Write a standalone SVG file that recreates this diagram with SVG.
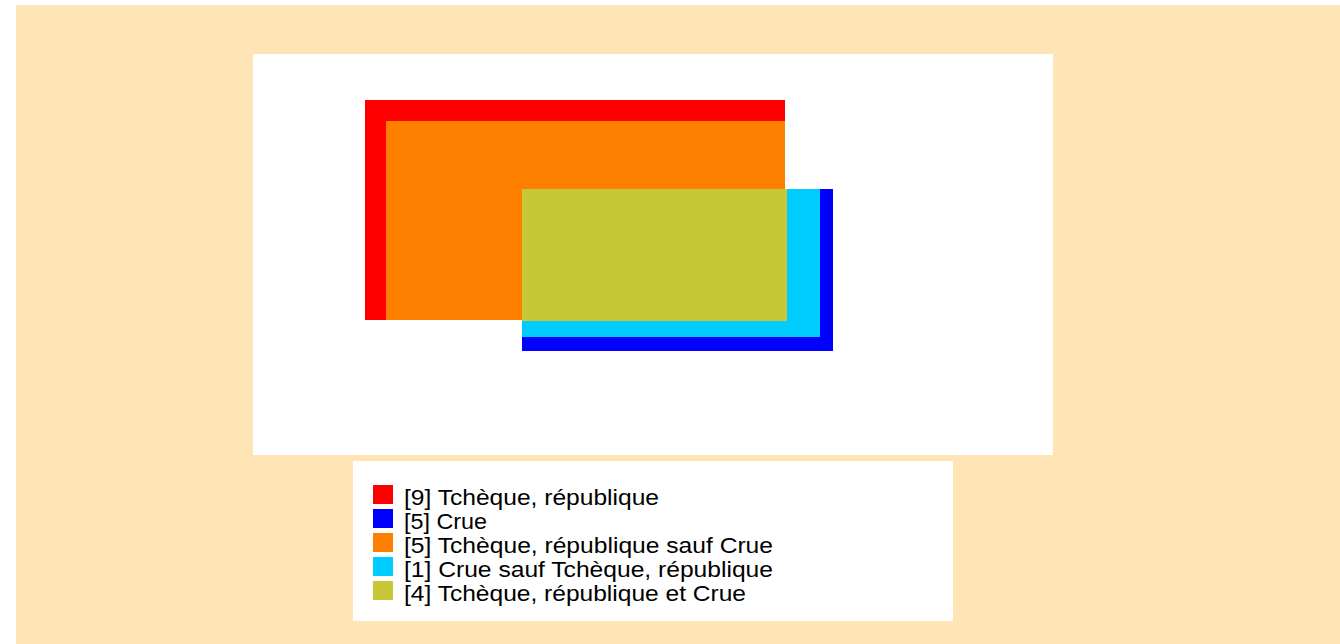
<svg xmlns="http://www.w3.org/2000/svg" width="1340" height="644" viewBox="0 0 1340 644">
<style>
text{font-family:"Liberation Sans",Arial,sans-serif;font-size:22px;fill:#000}
</style>
<rect x="0" y="0" width="1340" height="644" fill="#ffffff"/>
<rect x="16" y="5" width="1324" height="639" fill="#FFE4B5"/>
<g id="chart">
<rect x="253" y="54" width="800" height="401" fill="#ffffff"/>
<rect x="365" y="100" width="420" height="220" fill="#FF0000"/>
<rect x="386" y="121" width="399" height="199" fill="#FF8000"/>
<rect x="522" y="189" width="311" height="162" fill="#0000FF"/>
<rect x="522" y="189" width="298" height="148" fill="#00CCFF"/>
<rect x="522" y="189" width="265" height="132" fill="#C8C837"/>
</g>
<g id="legend">
<rect x="353" y="461" width="600" height="160" fill="#ffffff"/>
<rect x="373" y="485" width="20" height="19" fill="#FF0000"/>
<rect x="373" y="509" width="20" height="19" fill="#0000FF"/>
<rect x="373" y="533" width="20" height="19" fill="#FF8000"/>
<rect x="373" y="557" width="20" height="19" fill="#00CCFF"/>
<rect x="373" y="581" width="20" height="19" fill="#C8C837"/>
<text x="404" y="505" textLength="255" lengthAdjust="spacingAndGlyphs">[9] Tchèque, république</text>
<text x="404" y="529" textLength="83" lengthAdjust="spacingAndGlyphs">[5] Crue</text>
<text x="404" y="553" textLength="369" lengthAdjust="spacingAndGlyphs">[5] Tchèque, république sauf Crue</text>
<text x="404" y="577" textLength="369" lengthAdjust="spacingAndGlyphs">[1] Crue sauf Tchèque, république</text>
<text x="404" y="601" textLength="342" lengthAdjust="spacingAndGlyphs">[4] Tchèque, république et Crue</text>
</g>
</svg>
